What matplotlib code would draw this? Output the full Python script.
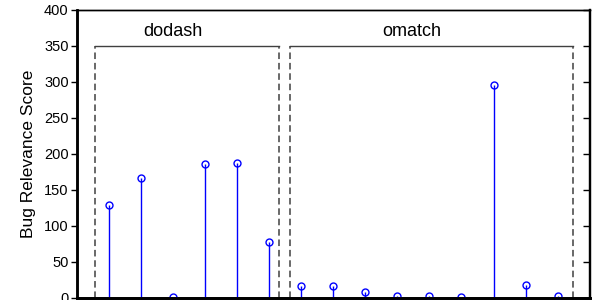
import matplotlib
matplotlib.use("Agg")
import matplotlib.pyplot as plt
import numpy as np

plt.rcParams['font.family'] = ['Liberation Sans', 'DejaVu Sans']

groups = ["dodash", "omatch"]
dodash_scores = [129, 167, 1, 186, 188, 77]
omatch_scores = [17, 17, 8, 3, 3, 1, 296, 18, 3]
y_ticks = [0, 50, 100, 150, 200, 250, 300, 350, 400]

scores = dodash_scores + omatch_scores
x = np.arange(1, len(scores) + 1)

fig = plt.figure(figsize=(5.92, 3.0), dpi=100)
ax = fig.add_axes([0.130, 0.007, 0.866, 0.960])

ax.vlines(x, 0, scores, colors='#0000ff', linewidth=1.0, zorder=3)
ax.plot(x, scores, linestyle='none', marker='o', markersize=5,
        markerfacecolor='none', markeredgecolor='#0000ff', markeredgewidth=1.0,
        zorder=4, clip_on=False)

# group boxes
n1 = len(dodash_scores)
n = len(scores)
boxes = [(0.55, n1 + 0.32), (n1 + 0.64, n + 0.47)]
box_top = 350
for (l, r), name in zip(boxes, groups):
    ax.plot([l, l], [0, box_top], color='#404040', linewidth=1.1, dashes=(4.3, 2.5))
    ax.plot([r, r], [0, box_top], color='#404040', linewidth=1.1, dashes=(4.3, 2.5))
    ax.plot([l, r], [box_top, box_top], color='#404040', linewidth=1.0)
ax.text(3.0, 370, groups[0], ha='center', va='center', fontsize=13)
ax.text(10.46, 370, groups[1], ha='center', va='center', fontsize=13)

ax.set_xlim(0, 16)
ax.set_ylim(0, 400)
ax.set_xticks([])
ax.set_yticks(y_ticks)
ax.set_yticklabels([str(t) for t in y_ticks], fontsize=10.5)
ax.tick_params(axis='y', direction='out', length=4, width=1, pad=2)
ax.set_ylabel("Bug Relevance Score", fontsize=12.5, labelpad=6)

ax2 = ax.twinx()
ax2.set_ylim(0, 400)
ax2.set_yticks(y_ticks)
ax2.set_yticklabels([])
ax2.tick_params(axis='y', direction='in', length=5, width=1)

for a in (ax, ax2):
    a.spines['left'].set_linewidth(1.8)
    a.spines['bottom'].set_linewidth(2.0)
    a.spines['top'].set_linewidth(1.0)
    a.spines['right'].set_linewidth(1.6)

fig.savefig("out.png", dpi=100)
